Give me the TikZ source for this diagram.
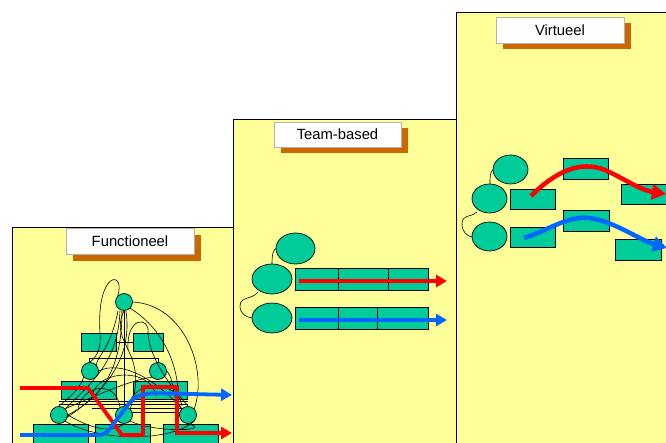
\documentclass[tikz,border=0pt]{standalone}
\usepackage{fontspec}
\setmainfont{Liberation Sans}
\usetikzlibrary{arrows.meta,shapes.geometric}
\definecolor{panely}{HTML}{FFFF99}
\definecolor{tealu}{HTML}{00CC99}
\definecolor{shad}{HTML}{CC6600}
\definecolor{redA}{HTML}{FF0000}
\definecolor{blueA}{HTML}{0066FF}
\begin{document}
\begin{tikzpicture}[x=1pt,y=-1pt,
  panel/.style={draw=black,fill=panely,line width=0.8pt,anchor=north west,inner sep=0pt},
  titlebox/.style={draw=gray!60,fill=white,line width=0.9pt,inner sep=0pt,minimum width=128pt,minimum height=26pt,font=\fontsize{14.8}{17}\selectfont},
  shadowbox/.style={fill=shad,inner sep=0pt,minimum width=128pt,minimum height=26pt},
  rectunit/.style={draw=black,fill=tealu,line width=0.7pt,inner sep=0pt,rectangle},
  ellunit/.style={draw=black,fill=tealu,line width=0.7pt,inner sep=0pt,ellipse},
  circunit/.style={draw=black,fill=tealu,line width=0.7pt,inner sep=0pt,circle,minimum size=17pt},
  wire/.style={draw=black,line width=0.6pt},
  redflow/.style={draw=redA,line width=3.8pt,-{Triangle[length=11pt,width=12pt]}},
  blueflow/.style={draw=blueA,line width=3.8pt,-{Triangle[length=11pt,width=12pt]}},
  bigtip/.style={line width=4.5pt,-{Triangle[length=14pt,width=15pt]}}]
\useasboundingbox (0,0) rectangle (666,443);
\clip (0,0) rectangle (666,443);

% ---------- panels ----------
\node[panel,minimum width=221pt,minimum height=240pt] (p1) at (12,227) {};
\node[panel,minimum width=223pt,minimum height=340pt] (p2) at (233,119) {};
\node[panel,minimum width=230pt,minimum height=450pt] (p3) at (456,12) {};

% ---------- titles ----------
\node[shadowbox] (s1) at (136.5,248) {};
\node[titlebox] (t1) at (130,241) {Functioneel};
\node[shadowbox,minimum width=127pt,minimum height=25pt] (s2) at (344,140.5) {};
\node[titlebox,minimum width=127pt,minimum height=25pt] (t2) at (337.5,134.5) {Team-based};
\node[shadowbox] (s3) at (566.5,36) {};
\node[titlebox] (t3) at (560,30) {Virtueel};

% ---------- Functioneel ----------
% org-chart lines
\draw[wire] (124,302) -- (124,415);
\draw[wire] (116,342) -- (133,342);
\draw[wire] (89,358) -- (158,358);
\draw[wire] (89,358) -- (89,364);
\draw[wire] (158,358) -- (158,364);
\draw[wire] (59,401) -- (188,401);
\draw[wire] (59,404) -- (188,404);
\draw[wire] (92,408) -- (188,408);
\draw[wire] (130,412) -- (188,412);

\node[rectunit,minimum width=35pt,minimum height=18pt] (f1a) at (98.5,342) {};
\node[rectunit,minimum width=30pt,minimum height=18pt] (f1b) at (148,342) {};
\node[rectunit,minimum width=55pt,minimum height=18pt] (f2a) at (88.5,390) {};
\node[rectunit,minimum width=54pt,minimum height=18pt] (f2b) at (160,390) {};
\node[rectunit,minimum width=55pt,minimum height=26pt] (f3a) at (60.5,437) {};
\node[rectunit,minimum width=55pt,minimum height=26pt] (f3b) at (122.5,437) {};
\node[rectunit,minimum width=55pt,minimum height=26pt] (f3c) at (190.5,437) {};
\draw[wire] (116,342) -- (133,342);
\draw[wire] (124,333) -- (124,351);

\node[circunit] (ct) at (124,302) {};
\node[circunit] (cl2) at (90,371) {};
\node[circunit] (cr2) at (158,371) {};
\node[circunit] (cl3) at (59,415) {};
\node[circunit] (cm3) at (124,415) {};
\node[circunit] (cr3) at (188,415) {};

% tangle of informal links
\draw[wire] (100,333) .. controls (96,270) and (126,270) .. (ct.north west);
\draw[wire] (100,333) .. controls (101,345) and (99,355) .. (cl2.north);
\draw[wire] (ct.east) .. controls (185,305) and (208,370) .. (cr3.north east);
\draw[wire] (128,350) .. controls (126,316) and (150,316) .. (148,333);
\draw[wire] (148,333) .. controls (150,360) and (170,385) .. (cr3.north);
\draw[wire] (ct.south east) .. controls (165,330) and (182,370) .. (178,412);
\draw[wire] (120,311) .. controls (118,360) and (95,380) .. (cl3.north east);
\draw[wire] (122,311) .. controls (122,372) and (100,398) .. (cl3.east);
\draw[wire] (126,311) .. controls (132,352) and (112,388) .. (66,418);
\draw[wire] (118,311) .. controls (110,350) and (98,355) .. (cl2.north east);
\draw[wire] (cl2.south west) .. controls (78,392) and (68,398) .. (cl3.north);
\draw[wire] (cl2.east) .. controls (120,360) and (155,378) .. (cr3.north west);
\draw[wire] (cr2.south west) .. controls (130,380) and (90,398) .. (cl3.north east);
\draw[wire] (cl3.south east) .. controls (100,442) and (170,442) .. (cr3.south east);
\draw[wire] (cl3.east) .. controls (90,428) and (110,434) .. (cm3.south);
\draw[wire] (cr3.south) .. controls (214,430) and (160,434) .. (cm3.south east);
\draw[wire] (92,396) .. controls (98,368) and (152,368) .. (156,396);
\draw[wire] (78,408) .. controls (84,384) and (116,380) .. (120,407);
\draw[wire] (128,407) .. controls (134,378) and (178,380) .. (182,406);
\draw[wire] (cr2.east) .. controls (175,380) and (170,395) .. (cr3.north west);
\draw[wire] (ct.south) .. controls (108,345) and (150,350) .. (cm3.north east);

% flows
\coordinate (fr0) at (20,388);
\coordinate (fr1) at (232,433);
\draw[redflow] (fr0) -- (88,388) -- (122,435) -- (143,435) -- (143,387) -- (177,387) -- (177,433) -- (fr1);
\coordinate (fb0) at (20,435);
\coordinate (fb1) at (232,395);
\draw[blueflow,rounded corners=6pt] (fb0) -- (105,435) -- (134,397) -- (150,393) -- (fb1);

% ---------- Team-based ----------
\draw[wire] (272,264) .. controls (272,255) and (273,249) .. (277,248);
\draw[wire] (258,292) .. controls (252,300) and (240,296) .. (240,306) .. controls (240,314) and (246,317) .. (252,318);
\node[ellunit,minimum width=39pt,minimum height=31pt] (te1) at (295.5,248.5) {};
\node[ellunit,minimum width=40pt,minimum height=30pt] (te2) at (272,279) {};
\node[ellunit,minimum width=40pt,minimum height=30pt] (te3) at (272,318) {};
\node[rectunit,minimum width=43pt,minimum height=22pt] (ta1) at (316.5,279) {};
\node[rectunit,minimum width=50pt,minimum height=22pt] (ta2) at (363,279) {};
\node[rectunit,minimum width=40pt,minimum height=22pt] (ta3) at (408,279) {};
\node[rectunit,minimum width=43pt,minimum height=22pt] (tb1) at (316.5,318) {};
\node[rectunit,minimum width=39pt,minimum height=22pt] (tb2) at (357.5,318) {};
\node[rectunit,minimum width=51pt,minimum height=22pt] (tb3) at (402.5,318) {};
\coordinate (tr0) at (299,281);
\coordinate (tr1) at (447,281);
\coordinate (tb0) at (299,320);
\coordinate (tbe) at (447,320);
\draw[redflow] (tr0) -- (tr1);
\draw[blueflow] (tb0) -- (tbe);

% ---------- Virtueel ----------
\draw[wire] (490,184) .. controls (490,176) and (490,171) .. (494,169);
\draw[wire] (477,212) .. controls (470,218) and (462,214) .. (462,224) .. controls (462,232) and (467,236) .. (472,237);
\node[ellunit,minimum width=35pt,minimum height=29pt] (ve1) at (510.5,169.5) {};
\node[ellunit,minimum width=35pt,minimum height=29pt] (ve2) at (489.5,198.5) {};
\node[ellunit,minimum width=35pt,minimum height=29pt] (ve3) at (489.5,236.5) {};
\node[rectunit,minimum width=45pt,minimum height=20pt] (va) at (532.5,199) {};
\node[rectunit,minimum width=45pt,minimum height=20pt] (vb) at (532.5,237) {};
\node[rectunit,minimum width=45pt,minimum height=21pt] (vc) at (585.5,168.5) {};
\node[rectunit,minimum width=46pt,minimum height=21pt] (vd) at (586,220.5) {};
\node[rectunit,minimum width=46pt,minimum height=20pt] (ve) at (644,194) {};
\node[rectunit,minimum width=46pt,minimum height=21pt] (vf) at (638,249.5) {};
\coordinate (vr0) at (531,196);
\coordinate (vr1) at (666,194);
\coordinate (vb0) at (524,238);
\coordinate (vb1) at (667,248);
\draw[redflow,bigtip] (vr0) .. controls (555,172) and (580,160) .. (605,170) .. controls (625,179) and (640,190) .. (vr1);
\draw[blueflow,bigtip] (vb0) .. controls (550,230) and (570,213) .. (595,219) .. controls (618,224) and (640,240) .. (vb1);
\end{tikzpicture}
\end{document}
